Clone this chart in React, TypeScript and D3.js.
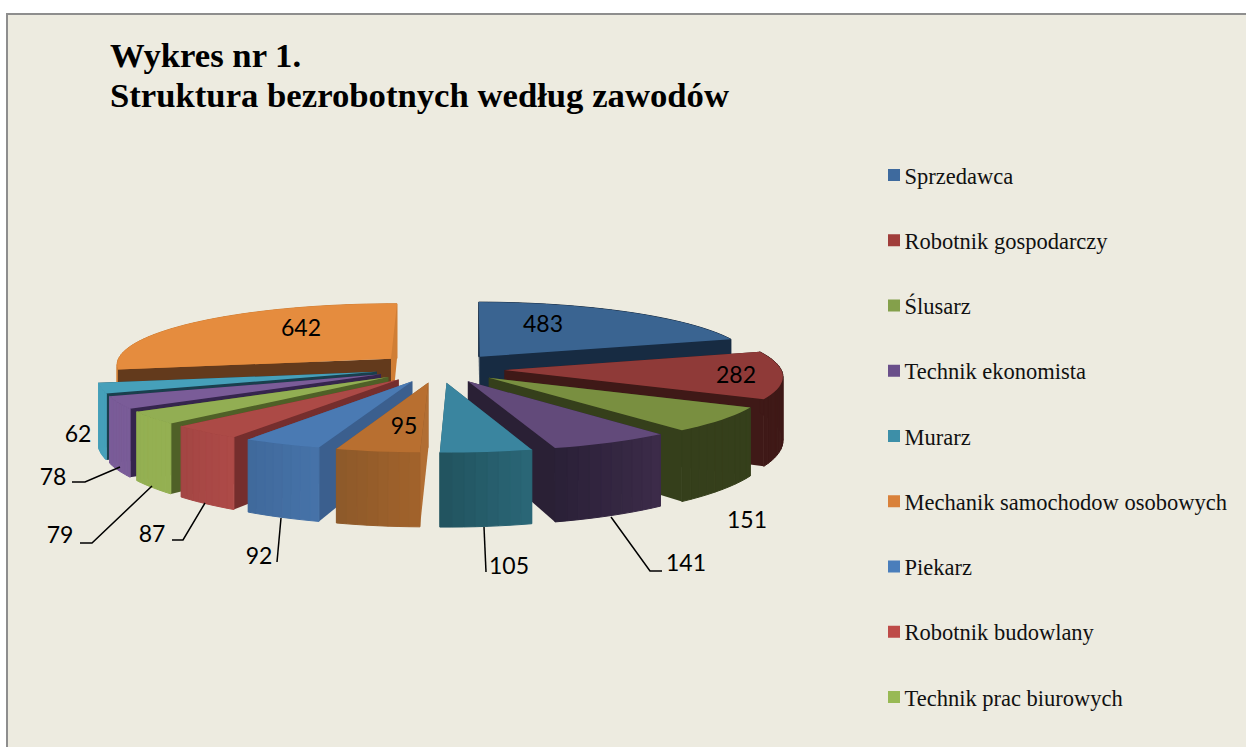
import * as d3 from "d3";

const values = [483, 282, 151, 141, 105, 95, 92, 87, 79, 78, 62, 642];
const legendLabels = [
  "Sprzedawca",
  "Robotnik gospodarczy",
  "Ślusarz",
  "Technik ekonomista",
  "Murarz",
  "Mechanik samochodow osobowych",
  "Piekarz",
  "Robotnik budowlany",
  "Technik prac biurowych",
];
const titleLines = ["Wykres nr 1.", "Struktura bezrobotnych według zawodów"];

const legendColors = ["#3E6A9E", "#A03D3A", "#84A04B", "#6A4F8A", "#3D8FA8", "#D9813A", "#4A7EBB", "#BE4B48", "#98B954"];
const topColors = ["#3A6491", "#8F3A38", "#798F40", "#624A7A", "#3A859F", "#B86F30", "#4A7AB3", "#AC4A46", "#92AE53", "#7A5C98", "#46A0BA", "#E58C3E"];
const startWall = ["#1A2F47", "#3F1917", "#353F1B", "#2A2035", "#235460", "#B16E33", "#3B5F8E", "#752E2D", "#4F6027", "#35254D", "#1A3F4D", "#633A1C"];
const endWall = ["#172B42", "#3F1917", "#353F1B", "#2A2035", "#235460", "#8E5A2A", "#3B5F8E", "#752E2D", "#4F6027", "#35254D", "#1A3F4D", "#D07E35"];
const rimLeft = ["#172B42", "#3F1917", "#353F1B", "#3C2B49", "#2A6676", "#A1622B", "#4672A8", "#AD4A47", "#94B052", "#7A5C98", "#46A0BA", "#D07E35"];
const rimRight = ["#172B42", "#3F1917", "#353F1B", "#2B2138", "#225460", "#8E5A2A", "#406A9C", "#A44644", "#94B052", "#7A5C98", "#46A0BA", "#D07E35"];

// label centres and leader lines
const labelPos: [string, number, number][] = [
  ["483", 543, 323], ["282", 736, 374], ["151", 747, 519], ["141", 686, 562],
  ["105", 509, 565], ["95", 404, 425], ["92", 259, 555], ["87", 152, 533],
  ["79", 60, 534], ["78", 53, 476], ["62", 78, 433], ["642", 301, 327],
];
const leaders: [number, number][][] = [
  [[611, 517], [650, 571], [662, 571]],
  [[484, 527], [486, 572]],
  [[281, 518], [277, 562]],
  [[205, 503], [183, 540], [172, 540]],
  [[152, 486], [92, 543], [80, 543]],
  [[120, 467], [85, 482], [72, 482]],
];

const cx = 440;
const cy = 368;
const radius = 276;
const explode = 65;
const tilt = 0.222;
const dist = 3220;
const depth = 63;

// ground plane -> screen, with a little perspective
function project(X: number, Y: number, z: number): [number, number] {
  const s = 1 / (1 + Y / dist);
  return [cx + X * s, cy - tilt * Y * s + z * Math.pow(s, 1.5)];
}

const deg = Math.PI / 180;

// the original's camera bends the angles a bit, more on the right hand side
const warp = d3
  .scaleLinear()
  .domain([0, 75, 120, 143, 165, 175, 182, 197, 211, 222, 235, 247, 260, 361].map(d => d * deg))
  .range([0, 4, 3.4, 3.3, 2.2, 1.8, 1.3, 0.3, -0.3, -0.5, -0.5, 0.2, 0, 0].map(d => d * deg));

const pie = d3
  .pie<number>()
  .sort(null)
  .startAngle(0.5 * deg)
  .endAngle(360.5 * deg);

const line = d3.line();

export default function App() {
  const arcs = pie(values).map((a, i) => {
    const mid = (a.startAngle + a.endAngle) / 2;
    const ox = explode * Math.sin(mid);
    const oy = explode * Math.cos(mid);
    const n = Math.max(8, Math.ceil((a.endAngle - a.startAngle) * 24));
    const angles = d3
      .range(n + 1)
      .map(k => a.startAngle + ((a.endAngle - a.startAngle) * k) / n)
      .map(t => t - warp(t));
    const rim = angles.map(t => [ox + radius * Math.sin(t), oy + radius * Math.cos(t)] as [number, number]);
    const top = (p: [number, number]) => project(p[0], p[1], 0);
    const low = (p: [number, number]) => project(p[0], p[1], depth);
    const apex: [number, number] = [ox, oy];
    const topPath = line([top(apex), ...rim.map(top)]) + "Z";
    // one quad per rim step, the outline folds over itself where the arc turns back
    const rimColor = d3.interpolateRgb(rimLeft[i], rimRight[i]);
    const rimQuads = d3.pairs(rim).map(([p, q], k) => ({
      d: line([top(p), top(q), low(q), low(p)]) + "Z",
      color: rimColor(k / (n - 1)),
    }));
    const first = rim[0];
    const last = rim[n];
    const startPath = line([top(apex), top(first), low(first), low(apex)]) + "Z";
    const endPath = line([top(apex), top(last), low(last), low(apex)]) + "Z";
    const startFar = first[1] > last[1];
    return { i, mid, topPath, rimQuads, startPath, endPath, startFar };
  });
  const ordered = arcs.slice().sort((a, b) => Math.cos(b.mid) - Math.cos(a.mid));

  return (
    <svg
      width={1246}
      height={747}
      style={{ position: "absolute", left: 0, top: 0, background: "#fff" }}
    >
      <rect x={7} y={14} width={1260} height={760} fill="#EDEBE0" stroke="#8E8E8E" strokeWidth={2} />

      {titleLines.map((t, i) => (
        <text
          key={t}
          x={110}
          y={67 + i * 40}
          fontFamily="'Liberation Serif'"
          fontWeight="bold"
          fontSize={34.7}
          fill="#000"
        >
          {t}
        </text>
      ))}

      {ordered.map(a => {
        const rimWall = a.rimQuads.map((q, k) => (
          <path key={k} d={q.d} fill={q.color} stroke={q.color} strokeWidth={1} />
        ));
        const start = <path d={a.startPath} fill={startWall[a.i]} />;
        const end = <path d={a.endPath} fill={endWall[a.i]} />;
        const backRim = Math.cos(a.mid) > 0;
        return (
          <g key={a.i}>
            {backRim && rimWall}
            {a.startFar ? start : end}
            {a.startFar ? end : start}
            {!backRim && rimWall}
            <path d={a.topPath} fill={topColors[a.i]} />
          </g>
        );
      })}

      {leaders.map((pts, i) => (
        <path key={i} d={line(pts) ?? ""} fill="none" stroke="#000" strokeWidth={1.5} />
      ))}

      {labelPos.map(([t, x, y]) => (
        <text
          key={t}
          x={x}
          y={y}
          textAnchor="middle"
          dominantBaseline="central"
          fontFamily="Lato"
          fontSize={23}
          fill="#000"
        >
          {t}
        </text>
      ))}

      {legendLabels.map((t, i) => {
        const y = 176 + i * 65.25;
        return (
          <g key={t}>
            <rect x={888} y={y - 7} width={12} height={12} fill={legendColors[i]} />
            <text x={904.5} y={y + 7.5} fontFamily="'Liberation Serif'" fontSize={22.5} fill="#111">
              {t}
            </text>
          </g>
        );
      })}
    </svg>
  );
}
